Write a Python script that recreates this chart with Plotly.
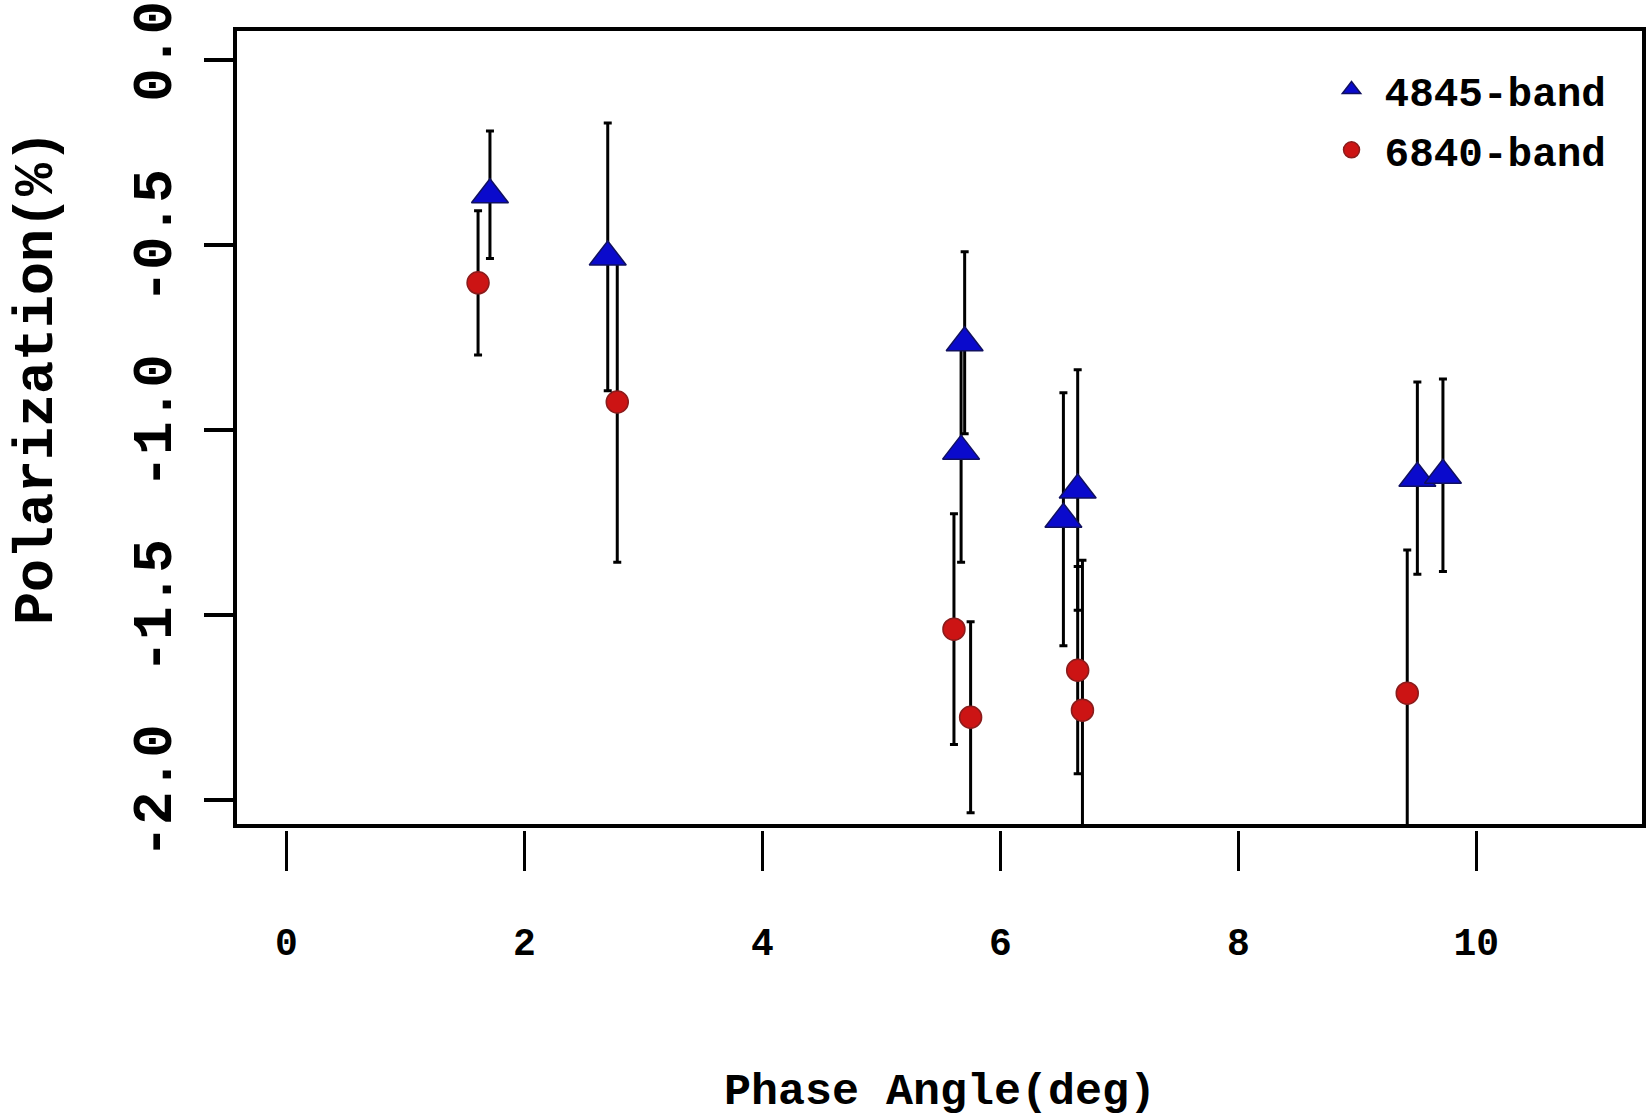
import plotly.graph_objects as go

# 4845-band (blue triangles)
phase_4845 = [1.71, 2.70, 5.70, 5.67, 6.53, 6.65, 9.505, 9.72]
pol_4845 = [-0.365, -0.533, -0.765, -1.058, -1.242, -1.163, -1.131, -1.123]
err_4845 = [0.172, 0.362, 0.246, 0.30, 0.342, 0.325, 0.26, 0.26]

# 6840-band (red circles)
phase_6840 = [1.61, 2.78, 5.61, 5.75, 6.65, 6.69, 9.42]
pol_6840 = [-0.603, -0.925, -1.539, -1.777, -1.65, -1.758, -1.712]
err_up_6840 = [0.195, 0.385, 0.312, 0.258, 0.28, 0.405, 0.387]
err_down_6840 = [0.195, 0.433, 0.312, 0.258, 0.28, 0.405, 0.387]

x_ticks = [0, 2, 4, 6, 8, 10]
y_ticks = [0.0, -0.5, -1.0, -1.5, -2.0]
y_ticklabels = ["0.0", "-0.5", "-1.0", "-1.5", "-2.0"]

FONT = "Liberation Mono"

fig = go.Figure()

fig.add_trace(go.Scatter(
    x=phase_6840, y=pol_6840, mode="markers", name="6840-band", legendrank=2,
    legendgroup="b",
    marker=dict(symbol="circle", size=22, color="#cc1414",
                line=dict(color="#8a1c1c", width=1.5)),
    error_y=dict(type="data", symmetric=False, array=err_up_6840,
                 arrayminus=err_down_6840, visible=True,
                 color="black", thickness=3, width=4),
))
fig.add_trace(go.Scatter(
    x=phase_4845, y=pol_4845, mode="markers", name="4845-band", legendrank=1,
    legendgroup="a",
    marker=dict(symbol="triangle-up", size=32, color="#0a0acc",
                line=dict(color="#101060", width=1.5)),
    error_y=dict(type="data", array=err_4845, visible=True,
                 color="black", thickness=3, width=4),
))

fig.add_shape(type="rect", xref="x domain", yref="y domain",
              x0=0, x1=1, y0=0, y1=1, line=dict(color="black", width=4),
              fillcolor="rgba(0,0,0,0)", layer="above")

fig.update_layout(
    width=1647, height=1119,
    margin=dict(l=235, r=3, t=29, b=260, autoexpand=False),
    paper_bgcolor="white", plot_bgcolor="white",
    showlegend=True,
    legend=dict(x=0.769, y=0.967, xanchor="left", yanchor="top",
                bgcolor="rgba(0,0,0,0)", borderwidth=0,
                font=dict(family=FONT, size=41, color="black", weight="bold"),
                itemsizing="trace", itemwidth=56, tracegroupgap=4,
                traceorder="grouped"),
    xaxis=dict(range=[-0.433, 11.41], anchor="free", position=0.035,
               automargin=False,
               tickvals=x_ticks, ticktext=[str(v) for v in x_ticks],
               ticks="outside", ticklen=40, tickwidth=3, tickcolor="black",
               showgrid=False, zeroline=False, showline=False,
               ticklabelstandoff=38,
               tickfont=dict(family=FONT, size=38, color="black", weight="bold")),
    yaxis=dict(range=[-2.071, 0.083], domain=[0.0398, 1], automargin=False,
               tickvals=y_ticks, ticktext=y_ticklabels, tickangle=-90,
               ticks="outside", ticklen=30, tickwidth=4, tickcolor="black",
               showgrid=False, zeroline=False, showline=False,
               ticklabelstandoff=11,
               tickfont=dict(family=FONT, size=56, color="black", weight="bold")),
    annotations=[
        dict(text="Phase Angle(deg)", xref="x domain", yref="paper",
             x=0.5, y=-0.281, xanchor="center", yanchor="middle", showarrow=False,
             font=dict(family=FONT, size=45, color="black", weight="bold")),
        dict(text="Polarization(%)", xref="paper", yref="paper",
             x=-0.1405, y=0.5795, xanchor="center", yanchor="middle", showarrow=False,
             textangle=-90,
             font=dict(family=FONT, size=55, color="black", weight="bold")),
    ],
)

fig.write_html(
    "out.html",
    config={"displayModeBar": False},
    post_script="document.body.style.margin='0px';document.body.style.overflow='hidden';",
)
